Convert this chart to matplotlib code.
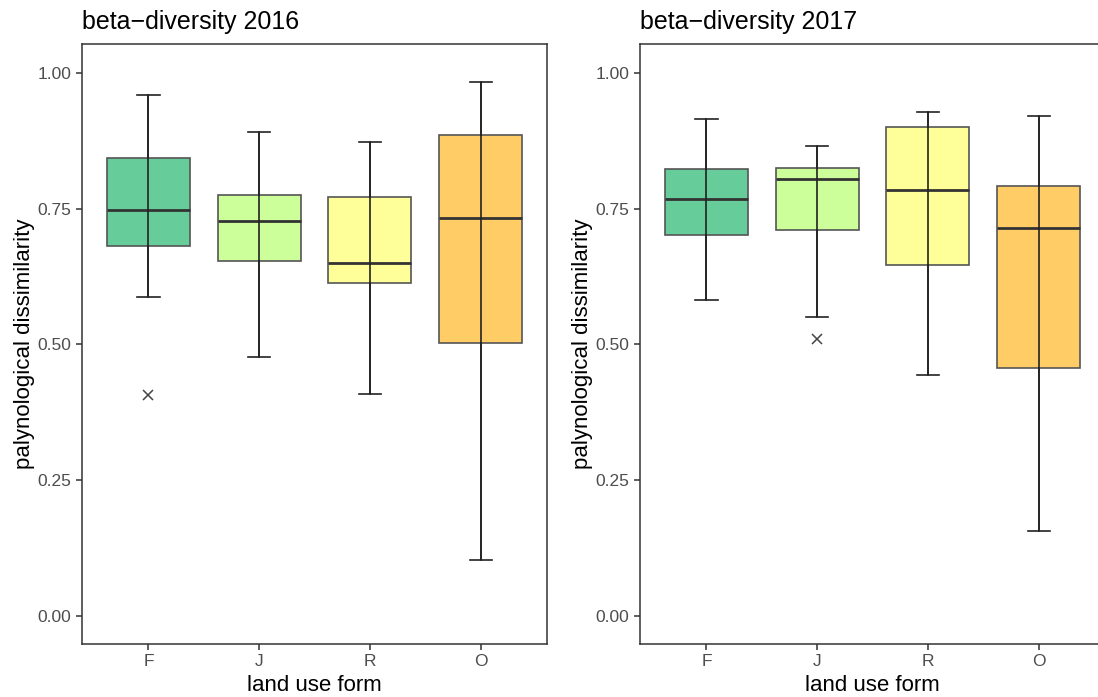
import matplotlib
matplotlib.use("Agg")
import matplotlib.pyplot as plt

plt.rcParams['font.family'] = ['Liberation Sans', 'DejaVu Sans']

categories = ["F", "J", "R", "O"]
colors = ["#66CC99", "#CCFF99", "#FFFF99", "#FFCC66"]

# 2016
w16_lo = [0.587, 0.476, 0.409, 0.103]
q1_16 = [0.681, 0.654, 0.612, 0.503]
med_16 = [0.748, 0.727, 0.650, 0.732]
q3_16 = [0.843, 0.774, 0.772, 0.885]
w16_hi = [0.959, 0.891, 0.872, 0.983]
out16 = [[0.407], [], [], []]

# 2017
w17_lo = [0.582, 0.551, 0.444, 0.157]
q1_17 = [0.702, 0.711, 0.646, 0.457]
med_17 = [0.767, 0.805, 0.785, 0.715]
q3_17 = [0.823, 0.825, 0.901, 0.791]
w17_hi = [0.914, 0.865, 0.928, 0.920]
out17 = [[], [0.510], [], []]

yticks = [0.00, 0.25, 0.50, 0.75, 1.00]
ytick_labels = ["0.00", "0.25", "0.50", "0.75", "1.00"]

W, H = 1098, 697
fig = plt.figure(figsize=(W / 100, H / 100), dpi=100)

def px_axes(x0, x1, y0, y1):
    return fig.add_axes([x0 / W, (H - y1) / H, (x1 - x0) / W, (y1 - y0) / H])

def draw(ax, title, lo, q1, med, q3, hi, outs):
    pos = list(range(1, len(categories) + 1))
    stats = []
    for i in range(len(categories)):
        stats.append(dict(whislo=lo[i], q1=q1[i], med=med[i], q3=q3[i],
                          whishi=hi[i], fliers=outs[i], label=categories[i]))
    bp = ax.bxp(stats, positions=pos, widths=0.75, patch_artist=True,
                showfliers=True, capwidths=0.2,
                boxprops=dict(edgecolor="#555555", linewidth=1.2),
                medianprops=dict(color="#333333", linewidth=2.0),
                whiskerprops=dict(color="#222222", linewidth=1.2),
                capprops=dict(color="#222222", linewidth=1.2),
                flierprops=dict(marker="x", markeredgecolor="#444444",
                                markersize=7, markeredgewidth=1.1))
    for patch, c in zip(bp["boxes"], colors):
        patch.set_facecolor(c)
    # whisker line running through the box
    ax.vlines(pos, lo, hi, color="#222222", linewidth=1.2, zorder=3)
    ax.set_xlim(0.4, len(categories) + 0.6)
    ax.set_ylim(-0.052, 1.053)
    ax.set_yticks(yticks)
    ax.set_yticklabels(ytick_labels)
    ax.set_xticks(pos)
    ax.set_xticklabels(categories)
    ax.tick_params(axis="both", colors="#333333", labelcolor="#4D4D4D",
                   labelsize=12.5, length=4.5, width=1.1, pad=3)
    for s in ax.spines.values():
        s.set_color("#333333")
        s.set_linewidth(1.1)
    ax.set_xlabel("land use form", fontsize=16, color="black", labelpad=4)
    ax.set_ylabel("palynological dissimilarity", fontsize=16, color="black", labelpad=2)
    ax.set_title(title, loc="left", fontsize=18, color="black", pad=11, x=0.0)

ax1 = px_axes(82, 547, 44, 644)
draw(ax1, "beta\u2212diversity 2016", w16_lo, q1_16, med_16, q3_16, w16_hi, out16)
ax2 = px_axes(640, 1105, 44, 644)
draw(ax2, "beta\u2212diversity 2017", w17_lo, q1_17, med_17, q3_17, w17_hi, out17)

fig.savefig("out.png", dpi=100)
